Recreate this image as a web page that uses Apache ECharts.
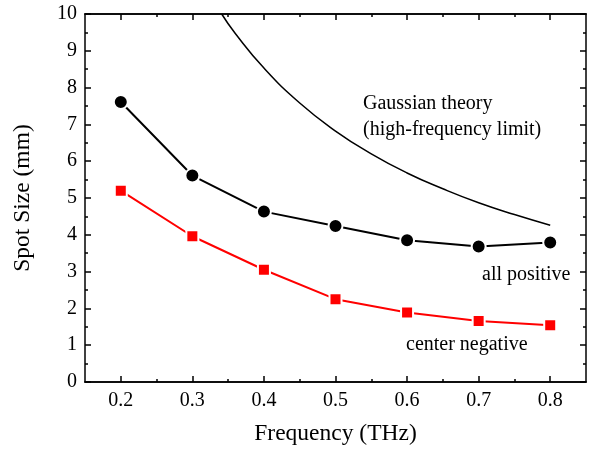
<!DOCTYPE html>
<html>
<head>
<meta charset="utf-8">
<script src="https://cdn.jsdelivr.net/npm/echarts@6/dist/echarts.min.js"></script>
<style>
  html, body { margin: 0; padding: 0; background: #fff; }
  #main { width: 606px; height: 457px; }
</style>
</head>
<body>
<div id="main"></div>
<script>
// frequencies (THz)
var freqs = [0.2, 0.3, 0.4, 0.5, 0.6, 0.7, 0.8];
var allPositive = [7.61, 5.61, 4.63, 4.24, 3.85, 3.68, 3.79];
var centerNegative = [5.2, 3.96, 3.05, 2.25, 1.89, 1.66, 1.54];

// Gaussian theory curve
var gaussFreq = [0.341, 0.36, 0.4, 0.45, 0.5, 0.55, 0.6, 0.65, 0.7, 0.75, 0.8];
var gaussSize = [10, 9.47, 8.53, 7.58, 6.82, 6.2, 5.68, 5.25, 4.87, 4.55, 4.26];

var xMajor = [0.2, 0.3, 0.4, 0.5, 0.6, 0.7, 0.8];
var xMinor = [0.25, 0.35, 0.45, 0.55, 0.65, 0.75];

function pairs(xs, ys) {
  return xs.map(function (x, i) { return [x, ys[i]]; });
}

var font = "Liberation Serif";
var lineStyle = { color: "#000", width: 1.5 };

function xAx(pos, ticks, len, labels) {
  return {
    type: "value",
    position: pos,
    min: 0.15,
    max: 0.85,
    axisLine: { show: true, onZero: false, lineStyle: lineStyle },
    axisTick: { show: true, inside: true, length: len, customValues: ticks, lineStyle: lineStyle },
    axisLabel: labels
      ? { show: true, customValues: ticks, margin: 9, color: "#000", fontFamily: font, fontSize: 20,
          formatter: function (v) { return v.toFixed(1); } }
      : { show: false },
    splitLine: { show: false },
  };
}

function yAx(pos, labels) {
  return {
    type: "value",
    position: pos,
    min: 0,
    max: 10,
    interval: 1,
    axisLine: { show: true, onZero: false, lineStyle: lineStyle },
    axisTick: { show: true, inside: true, length: 6, lineStyle: lineStyle },
    minorTick: { show: true, splitNumber: 2, length: 3, lineStyle: lineStyle },
    axisLabel: labels
      ? { show: true, margin: 8, color: "#000", fontFamily: font, fontSize: 20 }
      : { show: false },
    splitLine: { show: false },
    minorSplitLine: { show: false },
  };
}

var chart = echarts.init(document.getElementById("main"));

var xBottom = xAx("bottom", xMajor, 6, true);
xBottom.name = "Frequency (THz)";
xBottom.nameLocation = "middle";
xBottom.nameGap = 40;
xBottom.nameTextStyle = { color: "#000", fontFamily: font, fontSize: 23.5 };

var yLeft = yAx("left", true);
yLeft.name = "Spot Size (mm)";
yLeft.nameLocation = "middle";
yLeft.nameGap = 50;
yLeft.nameTextStyle = { color: "#000", fontFamily: font, fontSize: 23.5 };

var option = {
  animation: false,
  backgroundColor: "#fff",
  grid: { left: 85, right: 20, top: 14, bottom: 75 },
  xAxis: [
    xBottom,
    xAx("bottom", xMinor, 3, false),
    xAx("top", xMajor, 6, false),
    xAx("top", xMinor, 3, false),
  ],
  yAxis: [yLeft, yAx("right", false)],
  series: [
    {
      name: "Gaussian theory",
      type: "line",
      smooth: true,
      showSymbol: false,
      data: pairs(gaussFreq, gaussSize),
      lineStyle: { color: "#000", width: 1.5 },
    },
    {
      name: "all positive",
      type: "line",
      data: pairs(freqs, allPositive),
      symbol: "circle",
      symbolSize: 14,
      lineStyle: { color: "#000", width: 2 },
      itemStyle: { color: "#000", borderColor: "#fff", borderWidth: 2 },
    },
    {
      name: "center negative",
      type: "line",
      data: pairs(freqs, centerNegative),
      symbol: "rect",
      symbolSize: 12,
      lineStyle: { color: "#ff0000", width: 2 },
      itemStyle: { color: "#ff0000", borderColor: "#fff", borderWidth: 2 },
    },
  ],
  graphic: [
    { type: "text", left: 363, top: 94, style: { text: "Gaussian theory", font: "20px " + font, fill: "#000" } },
    { type: "text", left: 363, top: 120, style: { text: "(high-frequency limit)", font: "20px " + font, fill: "#000" } },
    { type: "text", left: 482, top: 265, style: { text: "all positive", font: "20px " + font, fill: "#000" } },
    { type: "text", left: 406, top: 335, style: { text: "center negative", font: "20px " + font, fill: "#000" } },
  ],
};

chart.setOption(option);
</script>
</body>
</html>
